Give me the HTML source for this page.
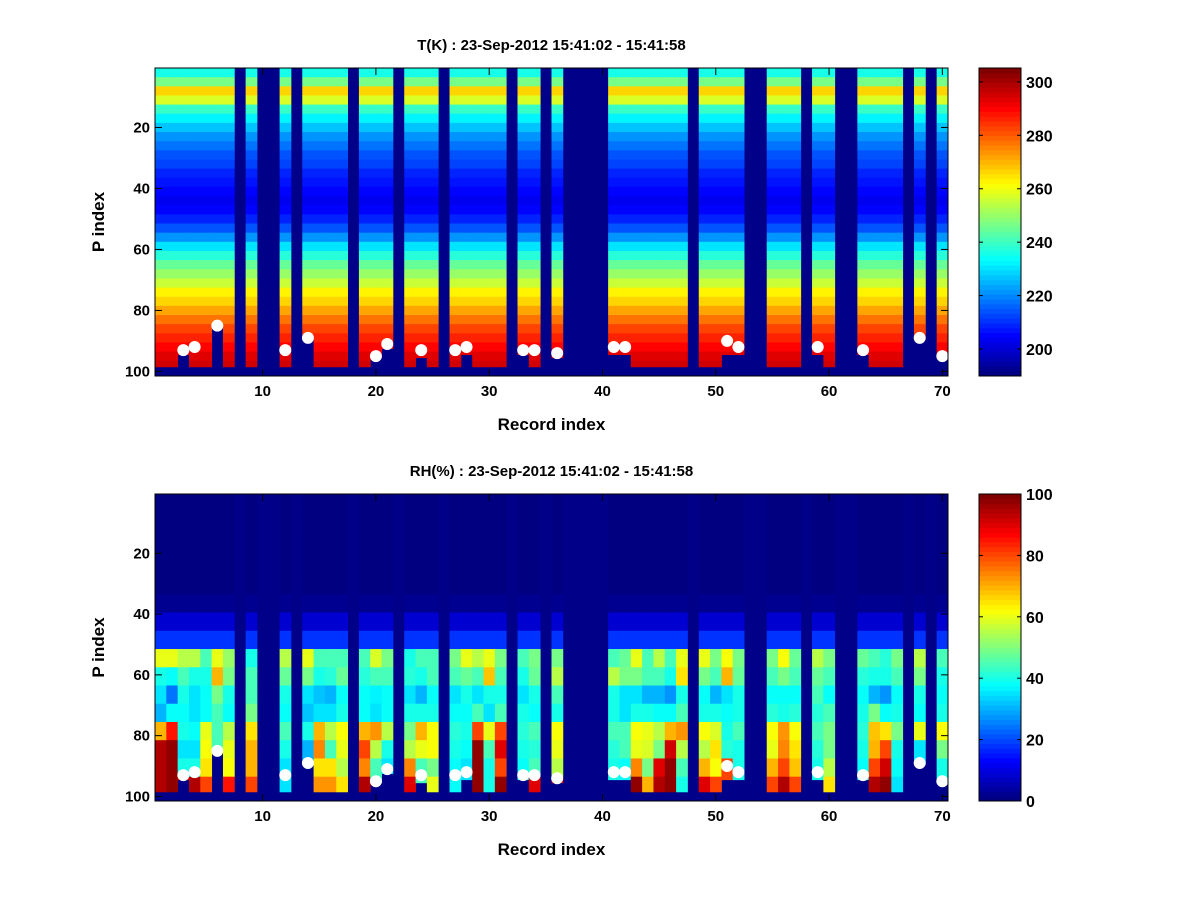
<!DOCTYPE html>
<html><head><meta charset="utf-8">
<style>
html,body{margin:0;padding:0;background:#fff;}
svg{display:block;font-family:"Liberation Sans",sans-serif;font-weight:bold;}
</style></head>
<body>
<svg id="fig" width="1200" height="900" viewBox="0 0 1200 900" xmlns="http://www.w3.org/2000/svg"></svg>
<script>
// ---------- DATA ----------
const nRecords = 70;
const missingCols = [8,10,11,13,18,22,26,32,35,37,38,39,40,48,53,54,58,61,62,67,69];
const bottomOverrides = {3:94,6:85,14:89,20:95,21:92,24:95,28:94,33:94,36:95,41:94,42:94,51:94,52:94,59:94,63:94,68:89,70:95};
const dotCols = [3,4,6,12,14,20,21,24,27,28,33,34,36,41,42,51,52,59,63,68,70];
const dotP    = [93,92,85,93,89,95,91,93,93,92,93,93,94,92,92,90,92,92,93,89,95];
// Temperature profile in bands of 3 P levels (P1-3, 4-6, ... 97-99), K
const tProfile = [236,246,266,258,240,232,226,222,218,215,212,209,207,205,204,205,208,214,222,230,237,244,250,256,262,267,272,277,282,286,290,293,296];
// RH band edges (P) and shared upper values
const rhUpperBands = [34,40,46,52];
const rhUpperVals = [3,8,18];
const rhLowerEdges = [52,58,64,70,76,82,88,94,99];
// per-column RH values for bands 52-58,58-64,64-70,70-76,76-82,82-88,88-94,94-99
const rhCols = {
 1:[60,40,35,30,70,95,95,95], 2:[60,38,25,38,85,98,98,98], 3:[55,45,40,38,40,35,40,90],
 4:[55,40,35,35,38,35,40,95], 5:[45,40,38,38,60,62,65,80], 6:[60,70,50,45,45,45,45,45],
 7:[52,50,40,38,55,60,62,85], 9:[40,45,45,50,65,70,70,80], 12:[55,48,40,38,45,40,35,35],
 14:[60,50,35,32,40,30,30,30], 15:[45,40,32,35,70,75,65,72], 16:[45,42,30,35,55,45,65,72],
 17:[45,48,38,40,62,60,55,65], 19:[45,42,38,38,70,80,75,95], 20:[58,45,36,35,72,55,45,45],
 21:[50,45,38,38,55,40,35,35], 23:[40,42,35,40,50,55,75,90], 24:[45,40,30,40,70,60,45,45],
 25:[45,45,38,40,62,62,50,60], 27:[50,45,35,38,42,40,38,38], 28:[60,48,40,38,40,38,35,35],
 29:[55,45,35,45,80,98,98,98], 30:[60,68,40,35,60,45,40,40], 31:[50,45,40,45,80,90,80,98],
 33:[45,40,35,40,42,40,38,38], 34:[50,48,40,38,45,42,45,90], 36:[50,55,45,40,62,60,55,90],
 41:[45,55,40,40,45,42,40,40], 42:[48,50,35,35,45,45,38,38], 43:[60,50,35,40,62,60,75,98],
 44:[45,45,30,40,60,58,50,70], 45:[55,45,30,38,55,50,90,95], 46:[45,40,28,38,70,92,98,98],
 47:[60,65,40,45,72,55,45,40], 49:[60,50,38,40,62,55,70,90], 50:[50,45,30,40,58,65,62,80],
 51:[62,70,35,38,40,42,80,80], 52:[50,48,40,40,45,40,40,40], 55:[50,45,38,42,62,60,70,80],
 56:[62,50,38,40,72,75,80,95], 57:[48,45,38,42,62,65,68,80], 59:[55,48,45,42,45,42,40,40],
 60:[50,45,38,45,50,50,55,65], 63:[48,42,38,40,42,40,38,38], 64:[45,40,30,50,68,70,80,95],
 65:[42,40,28,38,65,80,92,98], 66:[50,45,38,40,50,40,38,35], 68:[55,50,40,38,60,35,35,35],
 70:[45,40,38,40,62,50,40,40]
};
const xTicks = [10,20,30,40,50,60,70];
const yTicks = [20,40,60,80,100];
const tCbTicks = [200,220,240,260,280,300];
const rhCbTicks = [0,20,40,60,80,100];

// ---------- HELPERS ----------
const NS = "http://www.w3.org/2000/svg";
const svg = document.getElementById('fig');
function mk(tag, attrs, parent){const e=document.createElementNS(NS,tag);for(const k in attrs)e.setAttribute(k,attrs[k]);(parent||svg).appendChild(e);return e;}
function jet(v){v=Math.max(0,Math.min(1,v));v=Math.floor(v*63.999)/63;
 const c=x=>Math.round(255*Math.max(0,Math.min(1,x)));
 return `rgb(${c(1.5-Math.abs(4*v-3))},${c(1.5-Math.abs(4*v-2))},${c(1.5-Math.abs(4*v-1))})`;}
const NAVY = "rgb(0,0,136)";
const X0=155, X1=948;
function xs(r){return X0+(r-0.5)/nRecords*(X1-X0);}
function ysF(top,bot){return p=>top+(p-0.5)/101*(bot-top);}
function colBottom(c){return bottomOverrides[c]||98;}

function panel(cfg){
 const {top,bot,title,valFn,vmin,vmax,cbTicks,name}=cfg;
 const ys=ysF(top,bot);
 const g=mk('g',{});
 
 
 mk('rect',{x:X0,y:top,width:X1-X0,height:bot-top,fill:NAVY},g);
 for(let c=1;c<=nRecords;c++){
  if(missingCols.includes(c))continue;
  const bottom=colBottom(c);
  for(let p=1;p<=bottom;p++){
   const v=valFn(c,p);
   if(v==null)continue;
   const r=mk('rect',{x:xs(c-0.5).toFixed(2),y:ys(p-0.5).toFixed(2),width:(xs(c+0.5)-xs(c-0.5)+0.4).toFixed(2),height:(ys(p+0.5)-ys(p-0.5)+0.4).toFixed(2),fill:jet((v-vmin)/(vmax-vmin))},g);
   
   
  }
 }
 dotCols.forEach((c,i)=>{
  const d=mk('circle',{cx:xs(c),cy:ys(dotP[i]),r:6,fill:'#fff'},g);
  
  
 });
 mk('rect',{x:X0,y:top,width:X1-X0,height:bot-top,fill:'none',stroke:'#000','stroke-width':1},g);
 xTicks.forEach(t=>{
  const x=xs(t);
  mk('line',{x1:x,y1:bot,x2:x,y2:bot-7,stroke:'#000'},g);
  mk('line',{x1:x,y1:top,x2:x,y2:top+7,stroke:'#000'},g);
  const tx=mk('text',{x:x,y:bot+20,'font-size':15,'text-anchor':'middle'},g);tx.textContent=t;
  
  
 });
 yTicks.forEach(t=>{
  const y=ys(t);
  mk('line',{x1:X0,y1:y,x2:X0+7,y2:y,stroke:'#000'},g);
  mk('line',{x1:X1,y1:y,x2:X1-7,y2:y,stroke:'#000'},g);
  const tx=mk('text',{x:X0-5,y:y+5,'font-size':15,'text-anchor':'end'},g);tx.textContent=t;
  
  
 });
 const tt=mk('text',{x:(X0+X1)/2,y:top-18,'font-size':15,'text-anchor':'middle'},g);tt.textContent=title;
 
 
 const xl=mk('text',{x:(X0+X1)/2,y:bot+54,'font-size':17,'text-anchor':'middle'},g);xl.textContent='Record index';
 
 
 const yl=mk('text',{x:0,y:0,'font-size':17,'text-anchor':'middle',transform:`translate(104,${(top+bot)/2}) rotate(-90)`},g);yl.textContent='P index';
 
 
 // colorbar
 const CX0=979,CX1=1021;
 const cb=mk('g',{},g);
 
 
 const cy=v=>bot-(v-vmin)/(vmax-vmin)*(bot-top);
 for(let i=0;i<64;i++){
  const y0=bot-(i+1)/64*(bot-top), h=(bot-top)/64;
  mk('rect',{x:CX0,y:y0.toFixed(2),width:CX1-CX0,height:(h+0.5).toFixed(2),fill:jet(i/63)},cb);
 }
 mk('rect',{x:CX0,y:top,width:CX1-CX0,height:bot-top,fill:'none',stroke:'#000'},cb);
 cbTicks.forEach(t=>{
  const y=cy(t);
  mk('line',{x1:CX0,y1:y,x2:CX0+4,y2:y,stroke:'#000'},cb);
  mk('line',{x1:CX1,y1:y,x2:CX1-4,y2:y,stroke:'#000'},cb);
  const tx=mk('text',{x:CX1+5,y:y+6,'font-size':16},cb);tx.textContent=t;
  
  
 });
}

function tVal(c,p){return tProfile[Math.min(tProfile.length-1,Math.floor((p-1)/3))];}
function rhVal(c,p){
 if(p<rhUpperBands[0])return 0;
 for(let i=0;i<rhUpperVals.length;i++) if(p<rhUpperBands[i+1]) return rhUpperVals[i];
 const vals=rhCols[c]; if(!vals)return null;
 for(let i=0;i<vals.length;i++) if(p<rhLowerEdges[i+1]) return vals[i];
 return vals[vals.length-1];
}
panel({top:68,bot:376,title:'T(K) : 23-Sep-2012 15:41:02 - 15:41:58',valFn:tVal,vmin:189.9,vmax:305.2,cbTicks:tCbTicks,name:'temperature'});
panel({top:494,bot:801,title:'RH(%) : 23-Sep-2012 15:41:02 - 15:41:58',valFn:rhVal,vmin:0,vmax:100,cbTicks:rhCbTicks,name:'humidity'});
</script>
</body></html>
